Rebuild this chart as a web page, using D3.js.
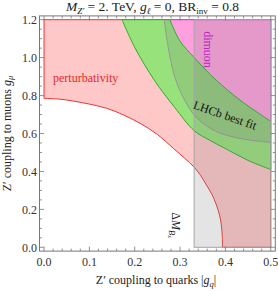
<!DOCTYPE html>
<html><head><meta charset="utf-8">
<script src="https://cdn.jsdelivr.net/npm/d3@7"></script>
<style>
html,body{margin:0;padding:0;background:#fff;}
svg{display:block;font-family:"Liberation Serif","Times New Roman",serif;}
</style></head>
<body><svg id="c" width="278" height="291"></svg>
<script>
// ---- data ----
const perturbQ  = [0, 0.035, 0.0646, 0.100, 0.138, 0.175, 0.2115, 0.250, 0.285, 0.310, 0.330, 0.345, 0.358, 0.370, 0.380, 0.387, 0.391, 0.393, 0.3935];
const perturbMu = [0.785, 0.781, 0.771, 0.755, 0.733, 0.698, 0.654, 0.595, 0.522, 0.470, 0.425, 0.380, 0.329, 0.280, 0.224, 0.170, 0.118, 0.060, 0.0];
const innerQ  = [0.172, 0.200, 0.244, 0.288, 0.331, 0.365, 0.402, 0.450, 0.5];
const innerMu = [1.2, 1.054, 0.878, 0.738, 0.615, 0.565, 0.518, 0.458, 0.41];
const outerQ  = [0.2775, 0.2996, 0.331, 0.3656, 0.402, 0.439, 0.470, 0.5];
const outerMu = [1.2, 1.088, 1.001, 0.913, 0.834, 0.764, 0.712, 0.664];
const fitQ  = [0.265, 0.274, 0.2885, 0.3106, 0.336, 0.380, 0.439, 0.5];
const fitMu = [1.2, 1.054, 0.896, 0.773, 0.685, 0.610, 0.571, 0.553];
const deltaMBsQ = 0.331;
const xTicks = [0, 0.1, 0.2, 0.3, 0.4, 0.5];
const yTicks = [0, 0.2, 0.4, 0.6, 0.8, 1.0, 1.2];
const xDomain = [-0.01, 0.51], yDomain = [-0.02, 1.22];
const qMax = 0.5, muMax = 1.2;

const svg = d3.select("#c");
const L = 39.5, R = 275.3, T = 15.9, B = 251.1;
const x = d3.scaleLinear().domain(xDomain).range([L, R]);
const y = d3.scaleLinear().domain(yDomain).range([B, T]);
const line = d3.line().x(d => x(d[0])).y(d => y(d[1])).curve(d3.curveCatmullRom.alpha(0.5));
const pts = (qs, ms) => qs.map((q, i) => [q, ms[i]]);
const seg = (p) => line(p).replace(/^M/, "L");
const P = (q, m) => `${x(q)},${y(m)}`;

const pert = pts(perturbQ, perturbMu);
const inner = pts(innerQ, innerMu);
const outer = pts(outerQ, outerMu);
const fit = pts(fitQ, fitMu);

// perturbativity
svg.append("path")
  .attr("d", line(pert) + `L${P(qMax,0)}L${P(qMax,muMax)}L${P(0,muMax)}Z`)
  .attr("fill", "rgb(255,200,200)").attr("stroke", "rgb(236,52,52)").attr("stroke-width", 1);
// dimuon
svg.append("path")
  .attr("d", `M${P(outerQ[0],muMax)}L${P(qMax,muMax)}L${P(qMax,outerMu[outerMu.length-1])}` + seg(outer.slice().reverse()) + "Z")
  .attr("fill", "rgb(255,160,222)").attr("stroke", "none");
svg.append("path")
  .attr("d", `M${P(outerQ[0],muMax)}L${P(qMax,muMax)}L${P(qMax,outerMu[outerMu.length-1])}`)
  .attr("fill", "none").attr("stroke", "rgb(230,60,230)").attr("stroke-width", 1.2);
// LHCb band
svg.append("path")
  .attr("d", line(inner) + seg(outer.slice().reverse()) + "Z")
  .attr("fill", "rgb(152,226,124)").attr("stroke", "rgb(40,175,40)").attr("stroke-width", 1);
// best-fit overlay
svg.append("path")
  .attr("d", line(fit) + seg(outer.slice().reverse()) + "Z")
  .attr("fill", "rgb(120,120,120)").attr("fill-opacity", 0.2).attr("stroke", "none");
svg.append("path").attr("d", line(fit))
  .attr("fill", "none").attr("stroke", "rgb(150,150,150)").attr("stroke-width", 1);
// Delta M_Bs
svg.append("rect")
  .attr("x", x(deltaMBsQ)).attr("y", y(muMax))
  .attr("width", x(qMax) - x(deltaMBsQ)).attr("height", y(0) - y(muMax))
  .attr("fill", "rgb(128,128,128)").attr("fill-opacity", 0.21)
  .attr("stroke", "rgb(165,165,165)").attr("stroke-width", 1);

// frame
const frameCol = "#777";
svg.append("rect").attr("x", L).attr("y", T).attr("width", R - L).attr("height", B - T)
  .attr("fill", "none").attr("stroke", frameCol).attr("stroke-width", 1);
const xMinor = d3.range(0, 0.5001, 0.02), yMinor = d3.range(0, 1.2001, 0.05);
const isMajor = (v, arr) => arr.some(t => Math.abs(t - v) < 1e-6);
const tg = svg.append("g").attr("stroke", frameCol).attr("stroke-width", 0.8);
xMinor.forEach(v => {
  const len = isMajor(v, xTicks) ? 4.5 : 2.5;
  tg.append("line").attr("x1", x(v)).attr("x2", x(v)).attr("y1", B).attr("y2", B - len);
  tg.append("line").attr("x1", x(v)).attr("x2", x(v)).attr("y1", T).attr("y2", T + len);
});
yMinor.forEach(v => {
  const len = isMajor(v, yTicks) ? 4.5 : 2.5;
  tg.append("line").attr("y1", y(v)).attr("y2", y(v)).attr("x1", L).attr("x2", L + len);
  tg.append("line").attr("y1", y(v)).attr("y2", y(v)).attr("x1", R).attr("x2", R - len);
});
const lab = svg.append("g").attr("font-size", 12).attr("fill", "#333");
xTicks.forEach(v => lab.append("text").attr("x", x(v)).attr("y", 266).attr("text-anchor", "middle").text(d3.format(".1f")(v)));
yTicks.forEach(v => lab.append("text").attr("x", 37).attr("y", y(v)).attr("dy", "0.35em").attr("text-anchor", "end").text(d3.format(".1f")(v)));

// title
const t = svg.append("text").attr("x", 152.5).attr("y", 10.5).attr("text-anchor", "middle").attr("font-size", 13.5).attr("fill", "#222");
t.append("tspan").attr("font-style", "italic").text("M");
t.append("tspan").attr("font-size", 9).attr("dy", 3).attr("font-style", "italic").text("Z′");
t.append("tspan").attr("dy", -3).text(" = 2. TeV, ");
t.append("tspan").attr("font-style", "italic").text("g");
t.append("tspan").attr("font-size", 9).attr("dy", 3).attr("font-style", "italic").text("ℓ");
t.append("tspan").attr("dy", -3).text(" = 0, BR");
t.append("tspan").attr("font-size", 9).attr("dy", 3).text("inv");
t.append("tspan").attr("dy", -3).text(" = 0.8");

// axis labels
const xl = svg.append("text").attr("x", 156).attr("y", 284).attr("text-anchor", "middle").attr("font-size", 12).attr("fill", "#222");
xl.append("tspan").text("Z′ coupling to quarks |");
xl.append("tspan").attr("font-style", "italic").text("g");
xl.append("tspan").attr("font-size", 8.5).attr("dy", 2.5).attr("font-style", "italic").text("q");
xl.append("tspan").attr("dy", -2.5).text("|");
const yl = svg.append("text").attr("transform", `translate(10.5,${(T + B) / 2}) rotate(-90)`).attr("text-anchor", "middle").attr("font-size", 12).attr("fill", "#222");
yl.append("tspan").text("Z′ coupling to muons ");
yl.append("tspan").attr("font-style", "italic").text("g");
yl.append("tspan").attr("font-size", 8.5).attr("dy", 2.5).attr("font-style", "italic").text("μ");

// region labels
svg.append("text").attr("x", 53).attr("y", 82).attr("font-size", 12).attr("fill", "rgb(232,40,40)").text("perturbativity");
svg.append("text").attr("transform", "translate(208,49.5) rotate(90)").attr("dy", "0.35em").attr("text-anchor", "middle")
  .attr("font-size", 12).attr("fill", "rgb(185,40,185)").text("dimuon");
svg.append("text").attr("transform", "translate(225,115) rotate(19)").attr("dy", "0.35em").attr("text-anchor", "middle")
  .attr("font-size", 12).attr("fill", "#111").text("LHCb best fit");
const dm = svg.append("text").attr("transform", "translate(176,225) rotate(90)").attr("dy", "0.35em").attr("text-anchor", "middle")
  .attr("font-size", 12).attr("fill", "#222");
dm.append("tspan").text("Δ");
dm.append("tspan").attr("font-style", "italic").text("M");
dm.append("tspan").attr("font-size", 8.5).attr("dy", 2.5).attr("font-style", "italic").text("B");
dm.append("tspan").attr("font-size", 6.5).attr("dy", 1.5).attr("font-style", "italic").text("s");
</script></body></html>
